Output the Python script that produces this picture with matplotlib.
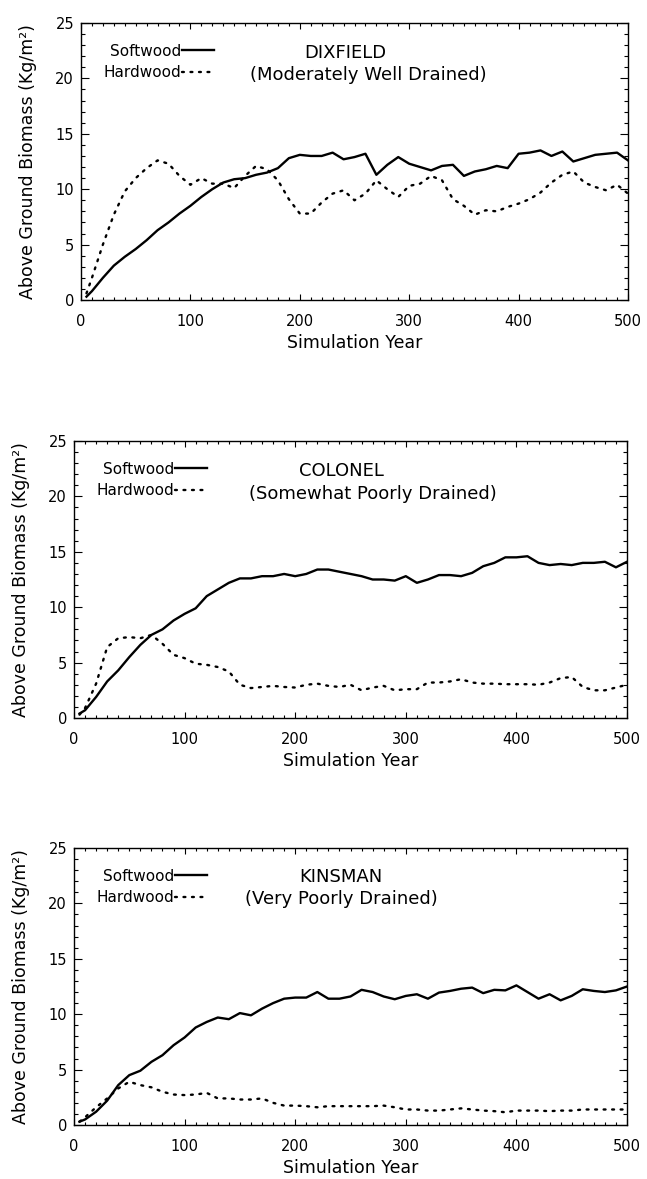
import matplotlib
matplotlib.use("Agg")
import matplotlib.pyplot as plt
from matplotlib.ticker import MultipleLocator

plt.rcParams['font.family'] = ['DejaVu Sans']

# simulation years (shared by all series)
years = [5, 10, 20, 30, 40, 50, 60, 70, 80, 90, 100, 110, 120, 130, 140, 150, 160,
         170, 180, 190, 200, 210, 220, 230, 240, 250, 260, 270, 280, 290, 300, 310,
         320, 330, 340, 350, 360, 370, 380, 390, 400, 410, 420, 430, 440, 450, 460,
         470, 480, 490, 500]

# Dixfield (moderately well drained)
dix_soft = [0.3, 0.8, 2.0, 3.1, 3.9, 4.6, 5.4, 6.3, 7.0, 7.8, 8.5, 9.3, 10.0, 10.6,
            10.9, 11.0, 11.3, 11.5, 11.9, 12.8, 13.1, 13.0, 13.0, 13.3, 12.7, 12.9,
            13.2, 11.3, 12.2, 12.9, 12.3, 12.0, 11.7, 12.1, 12.2, 11.2, 11.6, 11.8,
            12.1, 11.9, 13.2, 13.3, 13.5, 13.0, 13.4, 12.5, 12.8, 13.1, 13.2, 13.3,
            12.6]
dix_hard = [0.6, 2.0, 5.0, 7.7, 9.8, 11.0, 11.9, 12.6, 12.3, 11.2, 10.4, 11.0, 10.5,
            10.5, 10.1, 11.2, 12.1, 11.8, 10.8, 9.1, 7.8, 7.8, 8.8, 9.6, 9.9, 9.0,
            9.6, 10.8, 10.0, 9.3, 10.3, 10.5, 11.2, 10.8, 9.1, 8.5, 7.7, 8.1, 8.0,
            8.4, 8.7, 9.1, 9.7, 10.6, 11.3, 11.6, 10.6, 10.2, 9.9, 10.4, 9.6]

# Colonel (somewhat poorly drained)
col_soft = [0.4, 0.7, 1.9, 3.3, 4.3, 5.5, 6.6, 7.5, 8.0, 8.8, 9.4, 9.9, 11.0, 11.6,
            12.2, 12.6, 12.6, 12.8, 12.8, 13.0, 12.8, 13.0, 13.4, 13.4, 13.2, 13.0,
            12.8, 12.5, 12.5, 12.4, 12.8, 12.2, 12.5, 12.9, 12.9, 12.8, 13.1, 13.7,
            14.0, 14.5, 14.5, 14.6, 14.0, 13.8, 13.9, 13.8, 14.0, 14.0, 14.1, 13.6,
            14.1]
col_hard = [0.3, 0.9, 3.1, 6.4, 7.2, 7.3, 7.2, 7.5, 6.7, 5.7, 5.4, 4.9, 4.8, 4.6,
            4.2, 3.0, 2.7, 2.8, 2.9, 2.8, 2.75, 3.0, 3.1, 2.9, 2.8, 3.0, 2.5, 2.75,
            2.9, 2.5, 2.6, 2.6, 3.2, 3.2, 3.3, 3.5, 3.2, 3.1, 3.1, 3.05, 3.05, 3.05,
            3.0, 3.2, 3.6, 3.7, 2.8, 2.5, 2.5, 2.75, 3.0]

# Kinsman (very poorly drained)
kin_soft = [0.3, 0.5, 1.2, 2.2, 3.6, 4.5, 4.9, 5.7, 6.3, 7.2, 7.9, 8.8, 9.3, 9.7,
            9.55, 10.1, 9.9, 10.5, 11.0, 11.4, 11.5, 11.5, 12.0, 11.4, 11.4, 11.6,
            12.2, 12.0, 11.6, 11.35, 11.65, 11.8, 11.4, 11.95, 12.1, 12.3, 12.4,
            11.9, 12.2, 12.15, 12.6, 12.0, 11.4, 11.8, 11.25, 11.65, 12.25, 12.1,
            12.0, 12.15, 12.5]
kin_hard = [0.3, 0.7, 1.6, 2.4, 3.3, 3.9, 3.6, 3.4, 3.0, 2.75, 2.7, 2.75, 2.9, 2.4,
            2.4, 2.3, 2.3, 2.4, 2.0, 1.75, 1.75, 1.7, 1.6, 1.7, 1.7, 1.7, 1.7, 1.7,
            1.75, 1.6, 1.4, 1.4, 1.3, 1.3, 1.4, 1.5, 1.4, 1.3, 1.25, 1.15, 1.3, 1.3,
            1.3, 1.25, 1.3, 1.3, 1.4, 1.4, 1.4, 1.4, 1.4]

site_names = ["DIXFIELD", "COLONEL", "KINSMAN"]
site_drainage = ["(Moderately Well Drained)", "(Somewhat Poorly Drained)",
                 "(Very Poorly Drained)"]
softwood = [dix_soft, col_soft, kin_soft]
hardwood = [dix_hard, col_hard, kin_hard]

# layout (pixel boxes: left, top, right, bottom)
W, H = 647, 1179
boxes = [(81, 23, 628, 300), (74, 441, 627, 718), (74, 848, 627, 1125)]
name_pos = [(242, 22.3), (242, 22.3), (241, 22.4)]
sub_pos = [(263, 20.3), (270, 20.2), (242, 20.4)]

fig = plt.figure(figsize=(W / 100, H / 100), dpi=100)

for i in range(3):
    l, t, r, b = boxes[i]
    ax = fig.add_axes([l / W, 1 - b / H, (r - l) / W, (b - t) / H])
    ax.plot(years, softwood[i], color='black', lw=1.7, label='Softwood')
    ax.plot(years, hardwood[i], color='black', lw=1.7, ls=(0, (0.8, 2.8)),
            dash_capstyle='round', label='Hardwood')

    ax.set_xlim(0, 500)
    ax.set_ylim(0, 25)
    ax.xaxis.set_major_locator(MultipleLocator(100))
    ax.xaxis.set_minor_locator(MultipleLocator(10))
    ax.yaxis.set_major_locator(MultipleLocator(5))
    ax.yaxis.set_minor_locator(MultipleLocator(1))
    ax.tick_params(which='both', direction='in', top=True, right=True,
                   width=0.8, labelsize=10.5)
    ax.tick_params(axis='x', pad=10)
    ax.tick_params(axis='y', pad=5)
    ax.tick_params(axis='y', which='major', length=5.5)
    ax.tick_params(axis='y', which='minor', length=2.8)
    ax.tick_params(axis='x', which='major', length=4)
    ax.tick_params(axis='x', which='minor', length=2)
    for sp in ax.spines.values():
        sp.set_linewidth(1.0)

    ax.set_xlabel("Simulation Year", fontsize=12.5, labelpad=3.5)
    ax.set_ylabel("Above Ground Biomass (Kg/m²)", fontsize=12.5, labelpad=13)

    ax.legend(loc='upper left', bbox_to_anchor=(0.041, 0.925), frameon=False,
              markerfirst=False, fontsize=11, handlelength=2.1,
              handletextpad=0.05, labelspacing=0.4, borderpad=0,
              borderaxespad=0)
    ax.text(name_pos[i][0], name_pos[i][1], site_names[i], fontsize=13,
            ha='center', va='center')
    ax.text(sub_pos[i][0], sub_pos[i][1], site_drainage[i], fontsize=13,
            ha='center', va='center')

fig.savefig("out.png", dpi=100)
